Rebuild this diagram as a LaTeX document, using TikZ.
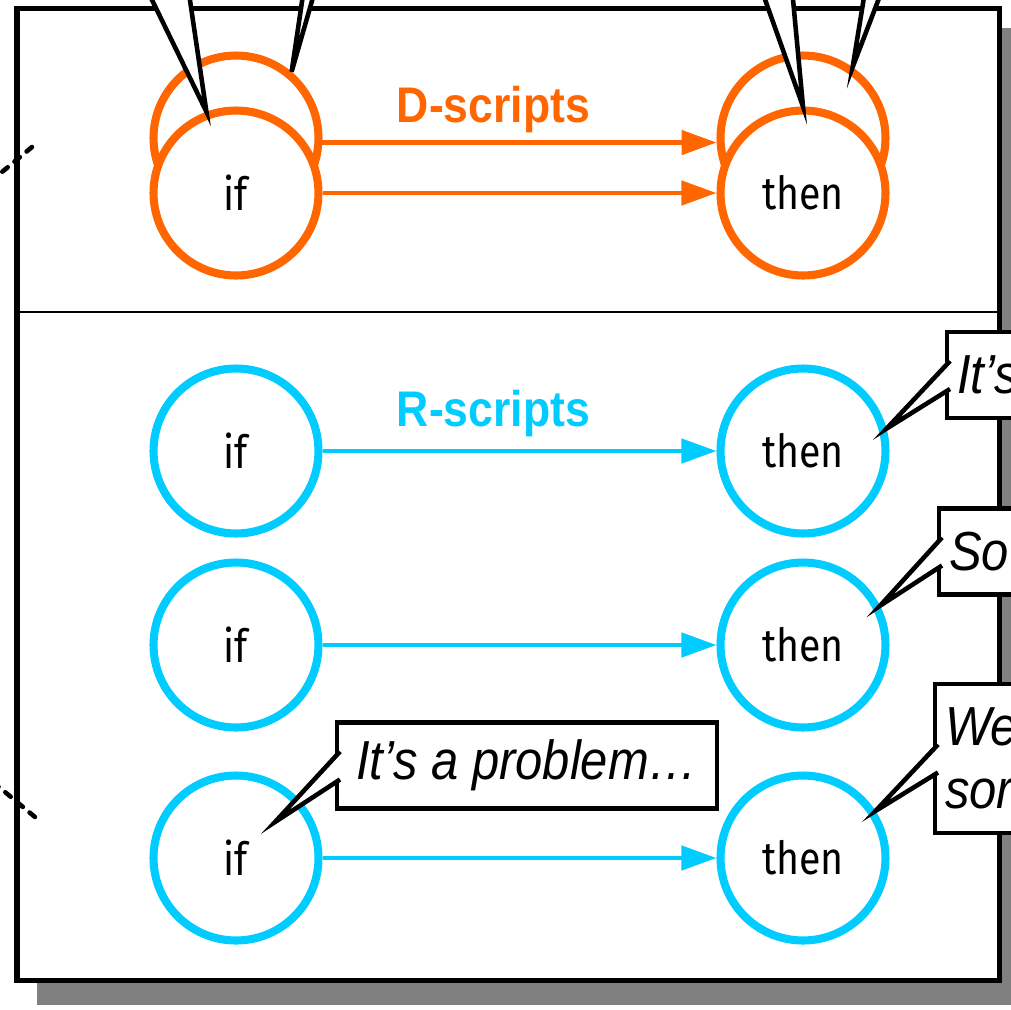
\documentclass[tikz,border=0pt]{standalone}
\usepackage{fontspec}
\setmainfont{Liberation Sans}
\newfontfamily\statefont[FakeStretch=0.86]{Fira Sans}
\newfontfamily\tagfont[FakeStretch=0.89]{Liberation Sans}
\usepackage{xcolor}
\usepackage{tikz}
\usetikzlibrary{positioning,arrows.meta,calc}
\definecolor{dcolor}{RGB}{255,102,0}
\definecolor{rcolor}{RGB}{0,204,255}
\definecolor{shadowgray}{RGB}{128,128,128}
\tikzset{
    frame/.style={draw, line width=2.85pt, fill=white},
    frame shadow/.style={fill=shadowgray},
    divider/.style={line width=1.2pt},
    state/.style={circle, minimum size=3.3cm, inner sep=0pt, line width=4.6pt, fill=white, font=\statefont\fontsize{26}{30}\selectfont},
    d state/.style={state, draw=dcolor},
    r state/.style={state, draw=rcolor},
    d flow/.style={-{Triangle[length=0.7cm, width=0.48cm]}, line width=2.6pt, dcolor},
    r flow/.style={-{Triangle[length=0.7cm, width=0.48cm]}, line width=2.6pt, rcolor},
    flow label/.style={anchor=base, font=\tagfont\bfseries\fontsize{28.5}{32}\selectfont},
    speech/.style={draw, fill=white, line width=2.6pt, outer sep=0pt, anchor=west, inner xsep=0.2cm, minimum height=1.72cm, font=\tagfont\itshape\fontsize{31.3}{35.8}\selectfont},
    speech tail/.style={draw, fill=white, line width=2.6pt, line join=miter},
    cut link/.style={line width=2.6pt, dash pattern=on 4pt off 5pt, line cap=round}
}
\begin{document}
\begin{tikzpicture}[x=0.02cm, y=-0.02cm]
    \useasboundingbox (0,0) rectangle (1011,1009);
    \clip (0,0) rectangle (1011,1009);

    % Frame, shadow and divider
    \fill[frame shadow] (36.5,28) rectangle (1023.5,1004.5);
    \draw[frame] (17,8.5) rectangle (999,980);
    \draw[divider] (17,312) -- (999,312);

    % Links coming in from the left
    \coordinate (linkTop) at (32,147);
    \coordinate (linkBottom) at (35,817);
    \draw[cut link] (linkTop) -- ++(-48,40);
    \draw[cut link] (linkBottom) -- ++(-48,-40);

    % D-scripts (stacked states)
    \node[d state] (ifDa) at (236,138) {};
    \node[d state] (thenDa) at (803,138) {};
    \node[d state] (ifDb) at (236,193) {if};
    \node[d state] (thenDb) at (803,193) {then};
    \draw[d flow] (ifDa.-3.5) -- (thenDa.183.5);
    \draw[d flow] (ifDb) -- (thenDb);
    \node[flow label, text=dcolor] (dLabel) at (493.5,122) {D-scripts};

    % R-scripts
    \node[r state] (ifR1) at (236,451) {if};
    \node[r state] (thenR1) at (803,451) {then};
    \node[r state] (ifR2) at (236,645) {if};
    \node[r state] (thenR2) at (803,645) {then};
    \node[r state] (ifR3) at (236,858) {if};
    \node[r state] (thenR3) at (803,858) {then};
    \draw[r flow] (ifR1) -- (thenR1);
    \draw[r flow] (ifR2) -- (thenR2);
    \draw[r flow] (ifR3) -- (thenR3);
    \node[flow label, text=rcolor] (rLabel) at (493.5,426) {R-scripts};

    % Tails of the speech boxes above
    \coordinate (ifTailA) at (142.3,-20);
    \coordinate (ifTailB) at (187,-20);
    \coordinate (ifTailC) at (305.2,-20);
    \coordinate (ifTailD) at (318,-20);
    \coordinate (thenTailA) at (758.1,-20);
    \coordinate (thenTailB) at (791.2,-20);
    \coordinate (thenTailC) at (866.8,-20);
    \coordinate (thenTailD) at (886,-20);
    \draw[speech tail] (ifTailA) -- (ifDb.110) -- (ifTailB);
    \draw[speech tail] (ifTailC) -- (ifDa.50) -- (ifTailD);
    \draw[speech tail] (thenTailA) -- (thenDb.90) -- (thenTailB);
    \draw[speech tail] (thenTailC) -- (thenDa.55) -- (thenTailD);

    % Speech boxes
    \node[speech, minimum width=7.6cm] (problem) at (337,765.5) {It’s a problem…};
    \node[speech, text width=5cm, align=left] (its) at (947,375) {It’s};
    \node[speech, text width=5cm, align=left] (so) at (939,551.5) {So};
    \node[speech, text width=5cm, align=left, minimum height=2.98cm] (we) at (935,758.5) {We\\sor};

    \coordinate (problemTip) at (275,822);
    \draw[speech tail] ($(problem.west)+(3,-14)$) -- (problemTip) -- ($(problem.west)+(3,14)$);
    \draw[speech tail] ($(its.west)+(3,-14)$) -- (thenR1.15) -- ($(its.west)+(3,14)$);
    \draw[speech tail] ($(so.west)+(3,-14)$) -- (thenR2.27) -- ($(so.west)+(3,14)$);
    \draw[speech tail] ($(we.west)+(3,-14)$) -- (thenR3.33) -- ($(we.west)+(3,14)$);
\end{tikzpicture}
\end{document}
